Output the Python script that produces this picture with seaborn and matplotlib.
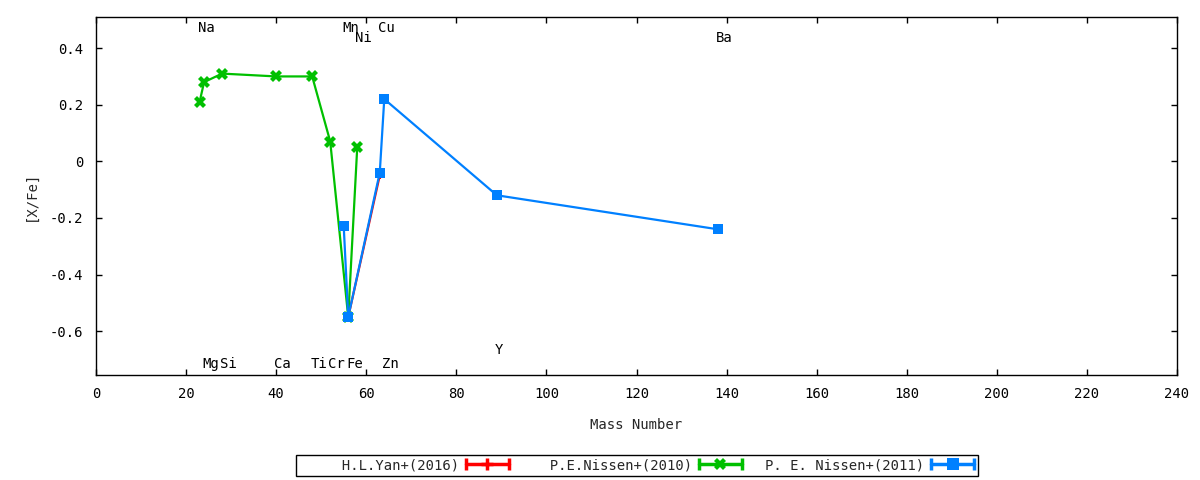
import matplotlib
matplotlib.use("Agg")
import matplotlib.pyplot as plt
import seaborn as sns
import pandas as pd
from matplotlib.lines import Line2D
from matplotlib.legend_handler import HandlerBase
from matplotlib.ticker import FuncFormatter, MultipleLocator

# ---- data ----
yan_mass = [56, 63]
yan_xfe = [-0.55, -0.05]

nissen10_mass = [23, 24, 28, 40, 48, 52, 56, 58]
nissen10_xfe = [0.21, 0.28, 0.31, 0.30, 0.30, 0.07, -0.55, 0.05]

nissen11_mass = [55, 56, 63, 64, 89, 138]
nissen11_xfe = [-0.23, -0.55, -0.04, 0.22, -0.12, -0.24]

series_labels = ["H.L.Yan+(2016)", "P.E.Nissen+(2010)", "P. E. Nissen+(2011)"]

elem_names = ["Na", "Mn", "Ni", "Cu", "Ba", "Mg", "Si", "Ca", "Ti", "Cr", "Fe", "Zn", "Y"]
elem_mass = [23, 55, 58, 63, 138, 24, 28, 40, 48, 52, 56, 64, 89]
elem_ypos = [0.47, 0.47, 0.435, 0.47, 0.435, -0.715, -0.715, -0.715, -0.715, -0.715, -0.715, -0.715, -0.665]

# ---- style ----
sns.set_theme(style="ticks")
plt.rcParams["font.family"] = ["DejaVu Sans Mono", "DejaVu Sans"]
plt.rcParams["font.size"] = 10

fig = plt.figure(figsize=(12, 4.8), dpi=100)
ax = fig.add_axes([96 / 1200, 1 - 375 / 480, (1177 - 96) / 1200, (375 - 17) / 480])

colors = ["#ff0000", "#00c000", "#0080ff"]
markers = ["+", "X", "s"]
msizes = [6, 9, 7.5]

datasets = [(yan_mass, yan_xfe), (nissen10_mass, nissen10_xfe), (nissen11_mass, nissen11_xfe)]
handles = []
for (m, v), c, mk, ms, lab in zip(datasets, colors, markers, msizes, series_labels):
    df = pd.DataFrame({"mass": m, "xfe": v})
    before = len(ax.get_lines())
    sns.lineplot(data=df, x="mass", y="xfe", ax=ax, color=c, marker=mk,
                 markersize=ms, markeredgewidth=1.5 if mk == "+" else 0,
                 markeredgecolor=c, linewidth=1.6, estimator=None, sort=False)
    handles.append(ax.get_lines()[before])
if ax.get_legend() is not None:
    ax.get_legend().remove()

for name, mx, my in zip(elem_names, elem_mass, elem_ypos):
    ax.text(mx - 0.4, my, name, ha="left", va="center", fontsize=10, color="black")

ax.set_xlim(0, 240)
ax.set_ylim(-0.755, 0.51)
ax.xaxis.set_major_locator(MultipleLocator(20))
ax.set_yticks([-0.6, -0.4, -0.2, 0, 0.2, 0.4])


def yfmt(v, pos):
    if abs(v) < 1e-9:
        return "0"
    return f"{v:.1f}"


ax.yaxis.set_major_formatter(FuncFormatter(yfmt))
ax.tick_params(direction="in", length=4, width=1, top=True, right=True,
               labelsize=10, colors="black")
ax.tick_params(axis="x", pad=9)
ax.tick_params(axis="y", pad=9)
for sp in ax.spines.values():
    sp.set_visible(True)
    sp.set_color("black")
    sp.set_linewidth(1)

ax.set_xlabel("Mass Number", fontsize=10)
ax.set_ylabel("[X/Fe]", fontsize=10)
ax.xaxis.set_label_coords(0.5, -(418 - 375) / 358)
ax.yaxis.set_label_coords(-(96 - 38) / 1081, 0.5)


class ErrHandler(HandlerBase):
    def create_artists(self, legend, orig_handle, xdescent, ydescent, width,
                       height, fontsize, trans):
        c = orig_handle.get_color()
        mk = orig_handle.get_marker()
        y = height / 2 - ydescent
        x0 = -xdescent
        x1 = x0 + width
        line = Line2D([x0, x1], [y, y], color=c, lw=2.5)
        caps = Line2D([x0, x1], [y, y], ls="none", marker="|", ms=9, mew=2.5, color=c)
        mid = Line2D([(x0 + x1) / 2], [y], ls="none", marker=mk,
                     ms=8 if mk != "+" else 9, mew=2.5 if mk == "+" else 0,
                     color=c, markeredgecolor=c)
        for a in (line, caps, mid):
            a.set_transform(trans)
        return [line, caps, mid]


maxlen = max(len(s) for s in series_labels)
padded = [s.rjust(maxlen) for s in series_labels]
leg = fig.legend(handles, padded, loc="center", bbox_to_anchor=(0.531, 0.031),
                 ncol=3, markerfirst=False, handler_map={Line2D: ErrHandler()},
                 frameon=True, fancybox=False, shadow=False, framealpha=1,
                 edgecolor="black", borderpad=0.25, handlelength=3.1,
                 handletextpad=0.5, columnspacing=1.7, fontsize=10,
                 borderaxespad=0)
leg.get_frame().set_linewidth(1)

fig.savefig("out.png", dpi=100)
